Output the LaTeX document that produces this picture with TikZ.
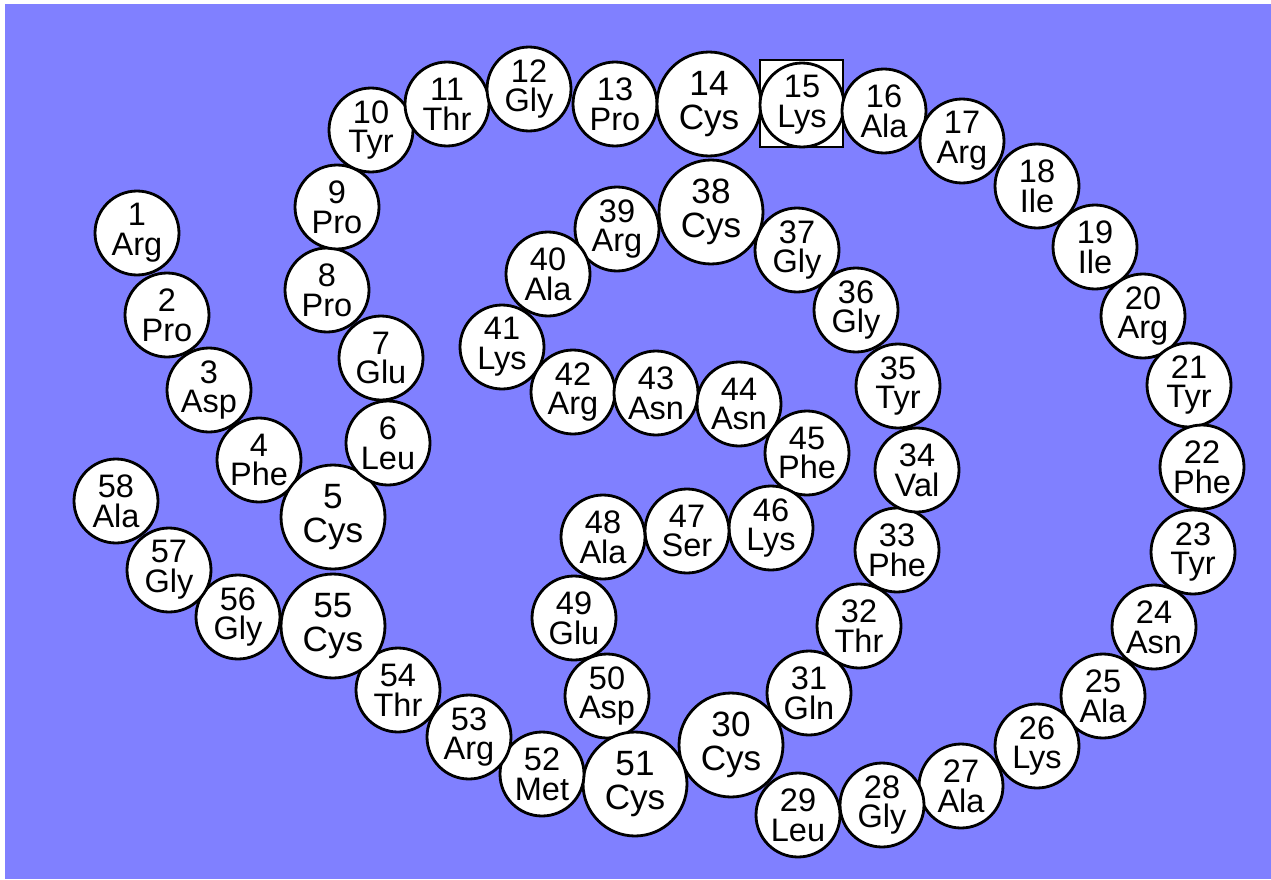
\documentclass[tikz,border=0pt]{standalone}
\usepackage{fontspec}
\setmainfont{Liberation Sans}
\definecolor{chainbg}{RGB}{128,128,255}
\tikzset{
  res/.style={circle, draw, fill=white, line width=1.6pt, minimum size=1.68cm, inner sep=0pt,
    align=center, font=\fontsize{18.5}{17}\selectfont},
  cys/.style={res, minimum size=2.08cm, font=\fontsize{20}{19}\selectfont}
}
\begin{document}
\begin{tikzpicture}[x=0.02cm,y=-0.02cm]
  \useasboundingbox (0,0) rectangle (1271,879);
  \fill [chainbg] (5,4) rectangle (1271,879);
  % box round residue 15
  \node [draw, fill=white, line width=1.1pt, minimum width=1.66cm, minimum height=1.74cm, inner sep=0pt] (box15) at (801.5,103.5) {};
  \foreach \n/\x/\y/\name/\s in {
      1/137/233/Arg/res, 2/167/315/Pro/res, 3/209/390/Asp/res, 4/259/460/Phe/res,
      5/333/517/Cys/cys, 6/388/443/Leu/res, 7/381/358/Glu/res, 8/327/290/Pro/res,
      9/337/207/Pro/res, 10/371/130/Tyr/res, 11/447/104/Thr/res, 12/529/89/Gly/res,
      13/615/104/Pro/res, 14/709/104/Cys/cys, 15/802/105/Lys/res, 16/884/111/Ala/res,
      17/962/141/Arg/res, 18/1037/186/Ile/res, 19/1095/247/Ile/res, 20/1143/316/Arg/res,
      21/1189/385/Tyr/res, 22/1202/467/Phe/res, 23/1193/552/Tyr/res, 24/1154/627/Asn/res,
      25/1103/696/Ala/res, 26/1037/746/Lys/res, 27/961/786/Ala/res, 28/882/805/Gly/res,
      29/798/815/Leu/res, 30/731/745/Cys/cys, 31/809/693/Gln/res, 32/859/626/Thr/res,
      33/897/550/Phe/res, 34/917/470/Val/res, 35/898/386/Tyr/res, 36/856/310/Gly/res,
      37/797/250/Gly/res, 38/711/212/Cys/cys, 39/617/229/Arg/res, 40/548/274/Ala/res,
      41/502/347/Lys/res, 42/573/392/Arg/res, 43/656/393/Asn/res, 44/739/404/Asn/res,
      45/807/453/Phe/res, 46/771/528/Lys/res, 47/687/531/Ser/res, 48/603/537/Ala/res,
      49/574/618/Glu/res, 50/607/696/Asp/res, 51/635/784/Cys/cys, 52/542/774/Met/res,
      53/469/737/Arg/res, 54/398/690/Thr/res, 55/333/626/Cys/cys, 56/238/617/Gly/res,
      57/169/570/Gly/res, 58/116/501/Ala/res}
    \node [\s] (r\n) at (\x,\y) {\n\\\name};
\end{tikzpicture}
\end{document}
